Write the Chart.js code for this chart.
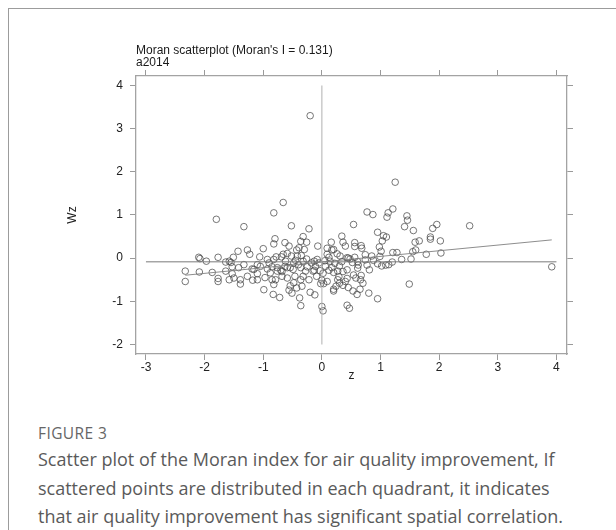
<!DOCTYPE html>
<html><head><meta charset="utf-8">
<script src="https://cdn.jsdelivr.net/npm/chart.js@4"></script>
<style>
html,body{margin:0;padding:0;background:#fff;width:616px;height:530px;overflow:hidden;}
#card{position:absolute;left:8px;top:8px;width:700px;height:600px;border:1.5px solid #9c9c9c;box-sizing:border-box;}
#wrap{position:absolute;left:0;top:0;width:616px;height:400px;}
#cap{position:absolute;left:38px;top:421px;font-family:"Open Sans",sans-serif;color:#5a5a5a;white-space:nowrap;}
.fig{font-size:15.5px;line-height:24px;color:#666;letter-spacing:0.4px;}
.txt{font-size:18px;line-height:28.5px;}
</style></head>
<body>
<div id="card"></div>
<div id="wrap"><canvas id="c" width="616" height="400"></canvas></div>
<div id="cap"><div class="fig">FIGURE 3</div><div class="txt">Scatter plot of the Moran index for air quality improvement, If<br>scattered points are distributed in each quadrant, it indicates<br>that air quality improvement has significant spatial correlation.</div></div>
<script>
const zValues = [
-1.80,-1.33,-0.82,-0.66,-0.52,-0.22,-0.80,-0.82,-0.63,-0.56,-0.32,-0.36,-0.26,-1.43,-1.27,-1.23,-1.00,
-2.10,-2.08,-1.97,-1.77,-1.64,-1.58,-1.55,-1.51,-1.53,-2.33,-2.33,-2.09,-1.87,-1.77,-1.77,-1.58,-1.53,
-1.50,-1.39,-1.39,-1.18,-1.16,-1.10,-1.06,-1.05,-0.99,-0.97,-0.93,-0.90,-0.88,-0.85,-0.83,-0.82,-0.79,
-0.78,-0.76,-0.72,-0.70,-0.68,-0.66,-0.62,-0.59,-0.56,-0.54,-0.52,-0.51,-0.49,-0.46,-0.45,-0.43,-0.40,
-0.38,-0.36,-0.36,-0.35,-0.34,-0.32,-0.30,-0.26,-0.20,-0.15,-0.13,-0.12,-0.11,-0.07,-0.05,-0.02,-0.03,
-1.33,-1.19,-1.10,-0.93,-0.59,-0.48,-0.42,-0.25,-0.18,-0.13,-0.09,-0.08,-0.43,-0.39,-0.59,-0.69,-0.82,
-0.85,-0.76,-1.10,-1.27,-1.42,-0.32,-0.28,-0.22,-0.36,-0.48,-0.54,-0.68,-0.63,-0.20,-1.64,
0.00,0.02,0.00,0.03,0.06,0.09,0.14,0.16,0.20,0.24,0.27,0.31,0.34,0.36,0.40,0.43,0.43,0.47,
1.25,0.77,0.87,1.11,1.13,1.21,1.45,1.46,1.41,1.56,0.54,0.95,1.10,1.03,0.98,1.01,0.99,0.95,1.02,1.09,
1.59,1.66,1.85,1.85,1.89,1.96,2.02,2.03,1.78,1.60,1.55,1.52,1.36,1.21,1.28,1.20,1.49,2.52,3.92,0.95,
0.80,0.60,0.65,0.53,0.45,0.36,0.30,0.20,0.20,0.09,0.17,0.26,0.56,0.56,0.67,0.68,0.74,0.74,0.77,0.81,
0.45,0.48,0.56,0.61,0.62,0.61,0.67,0.66,0.54,0.58,0.43,0.36,0.30,0.29,0.17,0.20,0.43,0.40,0.27,0.09,
0.05,0.12,0.02,0.85,0.88,1.05,1.14,0.70,0.52,0.34,0.22,0.12
];
const wzValues = [
0.90,0.73,1.05,1.29,0.75,0.68,0.45,0.33,0.36,0.28,0.50,0.39,0.37,0.16,0.19,0.09,0.22,
0.02,-0.01,-0.07,0.02,-0.09,-0.07,-0.10,0.02,-0.20,-0.30,-0.54,-0.32,-0.33,-0.47,-0.54,-0.50,-0.36,
-0.46,-0.50,-0.60,-0.51,-0.26,-0.36,0.03,-0.19,-0.73,-0.45,-0.25,-0.11,-0.34,-0.20,-0.84,-0.61,-0.50,
0.03,-0.22,-0.91,-0.28,-0.31,0.09,-0.07,-0.46,-0.74,-0.22,0.05,-0.81,-0.26,-0.42,-0.05,-0.69,-0.15,
-0.92,-1.10,-0.22,0.06,-0.65,-0.07,0.20,-0.02,-0.79,-0.30,-0.07,-0.85,-0.19,0.28,-0.11,-0.59,-0.29,
-0.15,-0.25,-0.15,-0.03,-0.22,-0.11,0.05,-0.20,-0.11,-0.28,-0.42,-0.03,0.19,0.24,0.11,0.03,-0.03,
-0.50,-0.30,-0.50,-0.42,-0.22,-0.42,-0.30,-0.50,-0.50,-0.57,-0.64,-0.42,-0.19,3.30,-0.30,
-1.12,-1.22,-0.51,-0.59,-0.19,0.09,-0.07,0.37,0.20,-0.65,-0.30,0.05,0.51,0.37,0.28,0.01,-1.09,-1.16,
1.76,1.07,1.01,0.95,1.05,1.14,0.98,0.88,0.73,0.64,0.78,0.60,0.49,0.40,0.26,0.16,0.04,-0.13,-0.18,-0.16,
0.37,0.40,0.49,0.44,0.69,0.78,0.40,0.12,0.09,0.19,0.15,-0.02,-0.03,0.13,0.13,-0.09,-0.60,0.75,-0.20,-0.94,
-0.81,-0.84,-0.72,-0.76,-0.68,-0.63,-0.58,-0.76,-0.72,-0.54,0.19,0.10,0.36,0.27,0.29,0.23,0.08,-0.04,-0.16,-0.27,
0.00,-0.02,0.02,-0.08,-0.16,-0.23,-0.40,-0.50,-0.39,-0.46,-0.27,-0.31,-0.18,-0.43,-0.22,-0.33,-0.47,-0.54,-0.50,0.23,
-0.06,-0.28,-0.35,0.05,-0.05,0.52,-0.15,-0.58,-0.10,-0.08,-0.12,0.02
];
const xTicks = [-3,-2,-1,0,1,2,3,4];
const yTicks = [-2,-1,0,1,2,3,4];
const titleLines = ["Moran scatterplot (Moran's I = 0.131)", "a2014"];
const xTitle = "z";
const yTitle = "Wz";
const moransI = 0.131;
const fitIntercept = -0.09;
const meanWz = -0.085;

const zMin = Math.min(...zValues), zMax = Math.max(...zValues);
const points = zValues.map((x, i) => ({x: x, y: wzValues[i]}));

Chart.defaults.font.family = "'Liberation Sans', Arial, sans-serif";
Chart.defaults.font.size = 12;
Chart.defaults.color = '#222';

const frameColor = '#a3a3a3';
const gridOpts = {drawOnChartArea: false, drawTicks: true, tickLength: 6, color: '#9a9a9a', lineWidth: 1};
const borderOpts = {display: true, color: frameColor, width: 1.3};

new Chart(document.getElementById('c'), {
  type: 'scatter',
  data: {
    datasets: [
      {data: [{x: 0, y: yTicks[0]}, {x: 0, y: yTicks[yTicks.length - 1]}], type: 'line', borderColor: '#b0b0b0', borderWidth: 1, pointRadius: 0, fill: false},
      {data: [{x: xTicks[0], y: meanWz}, {x: xTicks[xTicks.length - 1], y: meanWz}], type: 'line', borderColor: '#7a7a7a', borderWidth: 1, pointRadius: 0, fill: false},
      {data: [{x: zMin, y: fitIntercept + moransI * zMin}, {x: zMax, y: fitIntercept + moransI * zMax}], type: 'line', borderColor: '#808080', borderWidth: 0.9, pointRadius: 0, fill: false},
      {data: points, pointStyle: 'circle', pointRadius: 3.3, pointBorderWidth: 0.75, borderColor: '#4a4a4a', backgroundColor: 'rgba(0,0,0,0)', pointBackgroundColor: 'rgba(0,0,0,0)', showLine: false}
    ]
  },
  options: {
    responsive: false,
    animation: false,
    events: [],
    layout: {padding: {left: 61, top: 45, right: 43, bottom: 18}},
    plugins: {
      legend: {display: false},
      tooltip: {enabled: false},
      title: {display: true, text: titleLines, align: 'start', fullSize: false, color: '#1a1a1a',
        font: {size: 12, weight: 'normal', lineHeight: 1.0}, padding: {top: 0, bottom: 1}}
    },
    scales: {
      x: {type: 'linear', position: 'bottom', min: -3.17, max: 4.18,
        ticks: {stepSize: 1, includeBounds: false, padding: 0, color: '#222', callback: v => String(v)},
        grid: gridOpts, border: borderOpts,
        title: {display: true, text: xTitle, color: '#222', font: {size: 12, lineHeight: 1.0}, padding: 0},
        afterFit: s => { s.height = 28; }},
      x2: {type: 'linear', axis: 'x', position: 'top', min: -3.17, max: 4.18,
        ticks: {display: false, stepSize: 1, includeBounds: false},
        grid: gridOpts, border: borderOpts},
      y: {type: 'linear', position: 'left', min: -2.22, max: 4.22,
        ticks: {stepSize: 1, includeBounds: false, padding: 7, color: '#222', callback: v => String(v)},
        grid: gridOpts, border: borderOpts,
        title: {display: true, text: yTitle, color: '#222', font: {size: 12}, padding: {top: 4, bottom: 4}},
        afterFit: s => { s.width = 75; }},
      y2: {type: 'linear', axis: 'y', position: 'right', min: -2.22, max: 4.22,
        ticks: {display: false, stepSize: 1, includeBounds: false},
        grid: gridOpts, border: borderOpts}
    }
  }
});
</script>
</body></html>
